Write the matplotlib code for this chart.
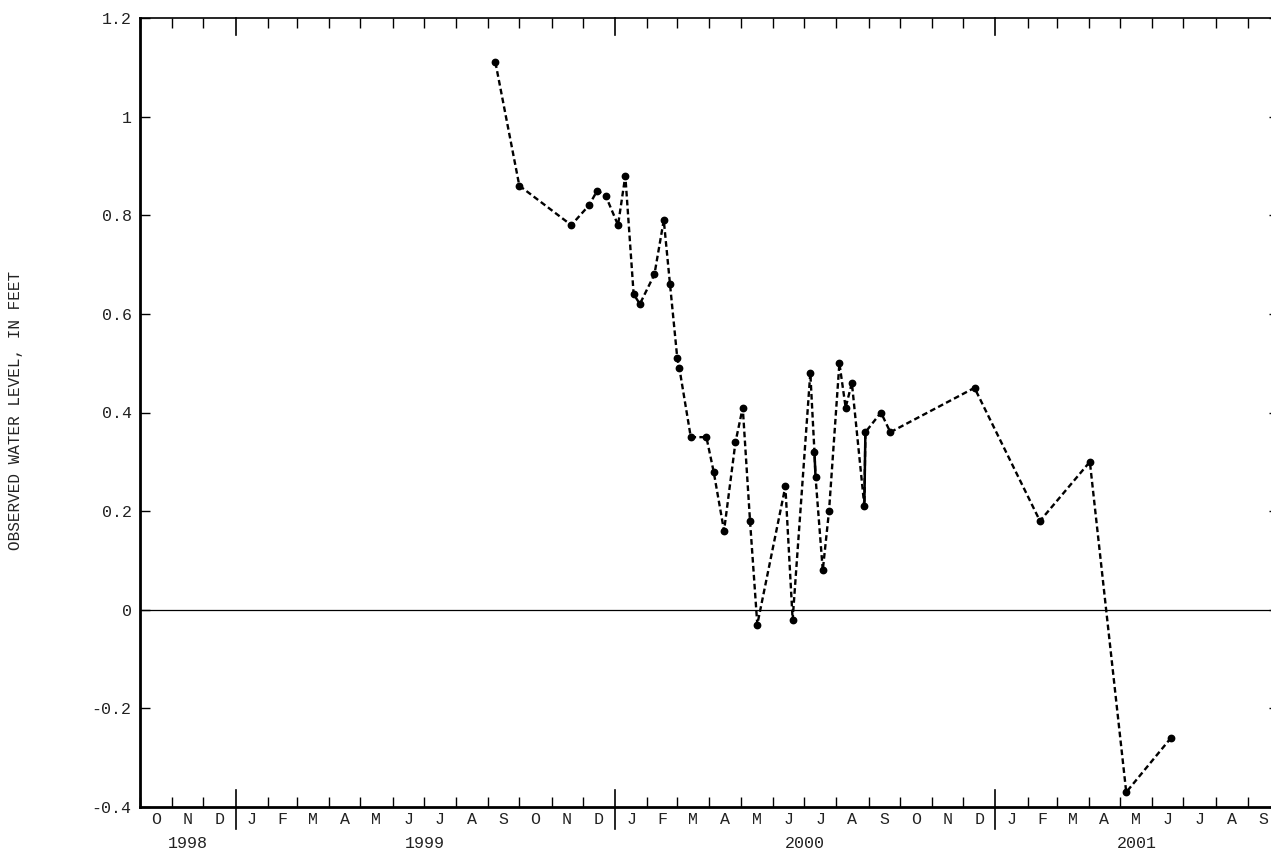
import datetime as dt
import matplotlib
matplotlib.use('Agg')
import matplotlib.pyplot as plt
import matplotlib.dates as mdates

plt.rcParams['font.family'] = 'Liberation Mono'

# observed water levels (feet)
obs_dates = ['1999-09-08', '1999-10-01', '1999-11-20', '1999-12-07', '1999-12-15',
             '1999-12-23', '2000-01-04', '2000-01-11', '2000-01-19', '2000-01-25',
             '2000-02-08', '2000-02-17', '2000-02-23', '2000-03-01', '2000-03-03',
             '2000-03-14', '2000-03-29', '2000-04-05', '2000-04-15', '2000-04-26',
             '2000-05-03', '2000-05-10', '2000-05-17', '2000-06-13', '2000-06-20',
             '2000-07-07', '2000-07-11', '2000-07-12', '2000-07-19', '2000-07-25',
             '2000-08-04', '2000-08-10', '2000-08-16', '2000-08-28', '2000-08-29',
             '2000-09-13', '2000-09-22', '2000-12-12', '2001-02-13', '2001-04-02',
             '2001-05-07', '2001-06-19']
obs_levels = [1.11, 0.86, 0.78, 0.82, 0.85,
              0.84, 0.78, 0.88, 0.64, 0.62,
              0.68, 0.79, 0.66, 0.51, 0.49,
              0.35, 0.35, 0.28, 0.16, 0.34,
              0.41, 0.18, -0.03, 0.25, -0.02,
              0.48, 0.32, 0.27, 0.08, 0.20,
              0.50, 0.41, 0.46, 0.21, 0.36,
              0.40, 0.36, 0.45, 0.18, 0.30,
              -0.37, -0.26]

month_letters = ['J', 'F', 'M', 'A', 'M', 'J', 'J', 'A', 'S', 'O', 'N', 'D']
years = [1998, 1999, 2000, 2001]
y_ticks = [-0.4, -0.2, 0, 0.2, 0.4, 0.6, 0.8, 1, 1.2]
y_labels = ['-0.4', '-0.2', '0', '0.2', '0.4', '0.6', '0.8', '1', '1.2']

start = dt.date(1998, 10, 1)
end = dt.date(2001, 10, 1)

x = [mdates.date2num(dt.date.fromisoformat(d)) for d in obs_dates]

W, H = 1271, 851
fig = plt.figure(figsize=(W / 100, H / 100), dpi=100)
ax = fig.add_axes([140 / W, 44 / H, 1139 / W, 789 / H])
ax_h = 789.0

ax.set_xlim(mdates.date2num(start), mdates.date2num(end))
ax.set_ylim(-0.4, 1.2)

# zero reference line
ax.axhline(0, color='black', lw=0.9, zorder=1)

# dashed line through all observations, solid where readings are a day apart
ax.plot(x, obs_levels, color='black', lw=1.7, linestyle=(0, (2.4, 1.4)),
        marker='o', markersize=4.6, zorder=3)
for i in range(len(x) - 1):
    if x[i + 1] - x[i] <= 1:
        ax.plot(x[i:i + 2], obs_levels[i:i + 2], color='black', lw=1.8,
                solid_capstyle='butt', zorder=3)

# month boundaries
month_starts = []
d = start
while d <= end:
    month_starts.append(d)
    d = dt.date(d.year + (d.month == 12), d.month % 12 + 1, 1)

minor = [mdates.date2num(m) for m in month_starts if m.month != 1]
ax.set_xticks(minor)
ax.set_xticklabels([])
ax.tick_params(axis='x', which='major', direction='in', length=7, width=1.0,
               top=True, bottom=True, color='black')

# year boundaries: longer lines crossing the bottom axis, and down from the top
xt = ax.get_xaxis_transform()
for m in month_starts:
    if m.month == 1:
        xm = mdates.date2num(m)
        ax.plot([xm, xm], [-22 / ax_h, 17 / ax_h], color='black', lw=1.2,
                transform=xt, clip_on=False)
        ax.plot([xm, xm], [1, 1 - 17 / ax_h], color='black', lw=1.2,
                transform=xt, clip_on=False)

# month letters centred in each month
for m in month_starts[:-1]:
    nxt = dt.date(m.year + (m.month == 12), m.month % 12 + 1, 1)
    mid = (mdates.date2num(m) + mdates.date2num(nxt)) / 2
    ax.text(mid, -13 / ax_h, month_letters[m.month - 1], transform=xt,
            ha='center', va='center', fontsize=12, color='#222222')

# year labels centred over the visible part of each year
x0, x1 = ax.get_xlim()
for yr in years:
    a = max(mdates.date2num(dt.date(yr, 1, 1)), x0)
    b = min(mdates.date2num(dt.date(yr + 1, 1, 1)), x1)
    ax.text((a + b) / 2, -36 / ax_h, str(yr), transform=xt,
            ha='center', va='center', fontsize=12, color='#222222')

ax.set_yticks(y_ticks)
ax.set_yticklabels(y_labels)
ax.tick_params(axis='y', direction='in', length=7, width=1.0, left=True,
               right=True, labelsize=12, labelcolor='#222222', pad=6)

for side in ['left', 'bottom']:
    ax.spines[side].set_linewidth(2.0)
for side in ['top', 'right']:
    ax.spines[side].set_linewidth(1.2)

fig.text(16 / W, 1 - 410 / H, 'OBSERVED WATER LEVEL, IN FEET', rotation=90,
         ha='center', va='center', fontsize=11.5, color='#222222')

fig.savefig('out.png', dpi=100)
